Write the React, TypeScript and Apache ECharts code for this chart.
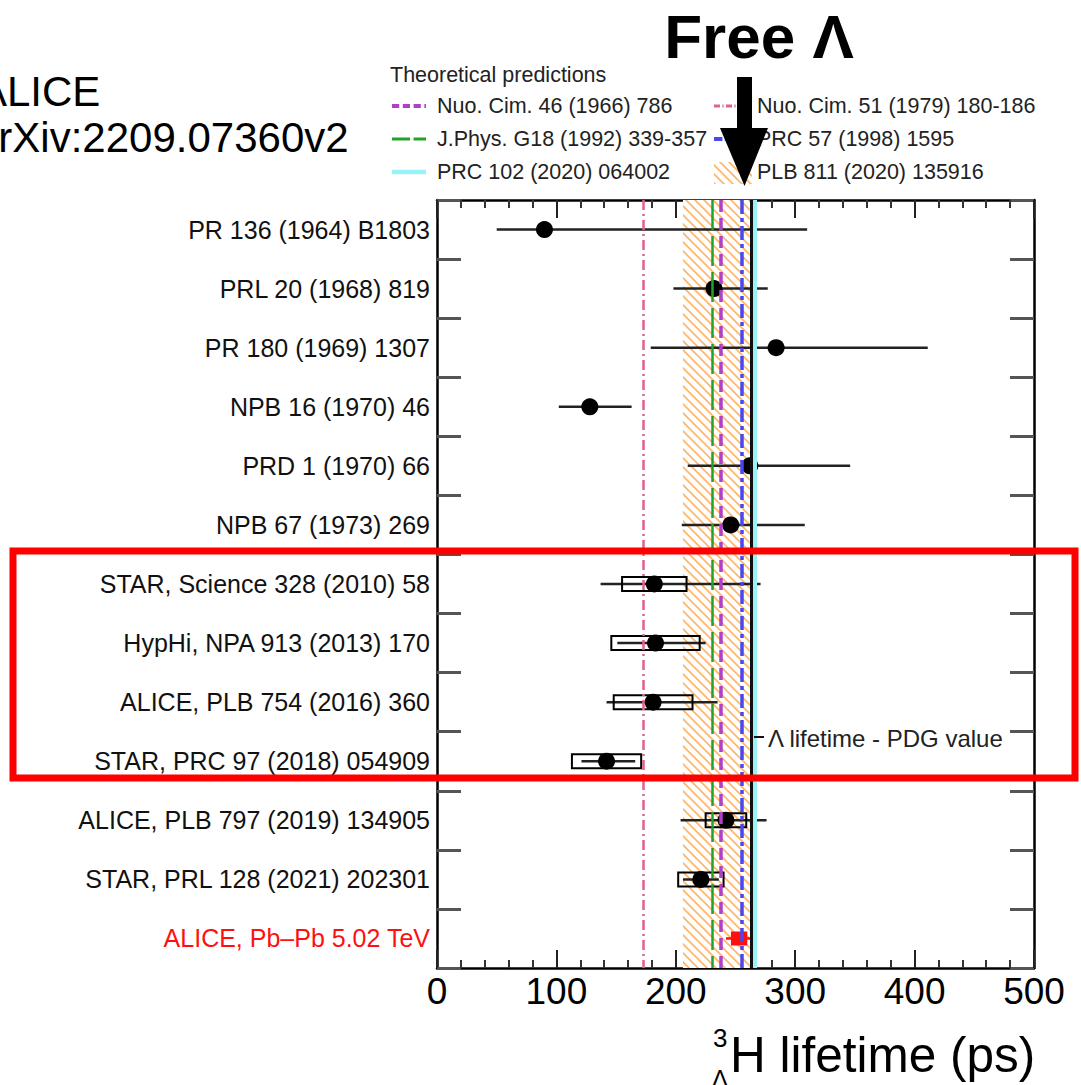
import React, { useEffect, useRef } from "react";
import * as echarts from "echarts";

// ---------- data ----------
const categories = [
  "PR 136 (1964) B1803",
  "PRL 20 (1968) 819",
  "PR 180 (1969) 1307",
  "NPB 16 (1970) 46",
  "PRD 1 (1970) 66",
  "NPB 67 (1973) 269",
  "STAR, Science 328 (2010) 58",
  "HypHi, NPA 913 (2013) 170",
  "ALICE, PLB 754 (2016) 360",
  "STAR, PRC 97 (2018) 054909",
  "ALICE, PLB 797 (2019) 134905",
  "STAR, PRL 128 (2021) 202301",
  "ALICE, Pb\u2013Pb 5.02 TeV",
];
const central = [90, 232, 284, 128, 262, 246, 182, 183, 181, 142, 242, 221, 253];
const statUp = [220, 45, 127, 35, 84, 62, 89, 42, 54, 24, 34, 15, 11];
const statDown = [40, 34, 105, 26, 52, 41, 45, 32, 39, 21, 38, 15, 11];
const sysErr = [0, 0, 0, 0, 0, 0, 27, 37, 33, 29, 17, 19, 6];

const xTicks = [0, 100, 200, 300, 400, 500];

const theoryNames = [
  "Nuo. Cim. 46 (1966) 786",
  "Nuo. Cim. 51 (1979) 180-186",
  "J.Phys. G18 (1992) 339-357",
  "PRC 57 (1998) 1595",
  "PRC 102 (2020) 064002",
  "PLB 811 (2020) 135916",
];
const theoryValues = [238, 172.5, 230.5, 255, 266];
const bandRange = [206, 262];
const pdgLifetime = 263.2;

// ---------- styles ----------
const FONT = "'Liberation Sans', Arial, Helvetica, sans-serif";
const theoryStyles = [
  { color: "#b040c8", width: 3.5, type: [12, 6] },
  { color: "#e2608c", width: 2.5, type: [10, 4, 2, 4] },
  { color: "#22a22a", width: 2.5, type: [30, 6] },
  { color: "#4848ee", width: 3.5, type: [14, 4, 4, 4] },
  { color: "#9af2f8", width: 4, type: "solid" },
];

export default function App() {
  const ref = useRef<HTMLDivElement>(null);

  useEffect(() => {
    if (!ref.current) return;
    const chart = echarts.init(ref.current, null, { renderer: "svg" });

    const hatch = document.createElement("canvas");
    const s = 9;
    hatch.width = s;
    hatch.height = s;
    const ctx = hatch.getContext("2d")!;
    ctx.fillStyle = "#ffffff";
    ctx.fillRect(0, 0, s, s);
    ctx.strokeStyle = "rgba(255,165,70,0.8)";
    ctx.lineWidth = 1.8;
    ctx.beginPath();
    ctx.moveTo(-1, -1);
    ctx.lineTo(s + 1, s + 1);
    ctx.moveTo(s - 2, -2);
    ctx.lineTo(s + 2, 2);
    ctx.moveTo(-2, s - 2);
    ctx.lineTo(2, s + 2);
    ctx.stroke();
    const pattern: any = { image: hatch, repeat: "repeat" };

    const isAlice = (i: number) => i === categories.length - 1;

    const xAxisBase = (pos: "bottom" | "top", showLabel: boolean) => ({
      type: "value",
      position: pos,
      min: xTicks[0],
      max: xTicks[xTicks.length - 1],
      interval: xTicks[1] - xTicks[0],
      axisLine: { show: true, onZero: false, lineStyle: { color: "#000", width: 2.5 } },
      axisTick: { show: true, inside: true, length: 18, lineStyle: { color: "#222", width: 2 } },
      minorTick: { show: true, splitNumber: 5, length: 8, lineStyle: { color: "#333", width: 2 } },
      splitLine: { show: false },
      axisLabel: {
        show: showLabel,
        color: "#000",
        fontSize: 37,
        fontFamily: FONT,
        margin: 5,
      },
    });

    const yAxisBase = (pos: "left" | "right", showLabel: boolean) => ({
      type: "category",
      position: pos,
      inverse: true,
      data: categories,
      boundaryGap: true,
      axisLine: { show: true, onZero: false, lineStyle: { color: "#000", width: 2.5 } },
      axisTick: {
        show: true,
        inside: true,
        length: 24,
        interval: 0,
        lineStyle: { color: "#555", width: 3 },
      },
      splitLine: { show: false },
      axisLabel: {
        show: showLabel,
        interval: 0,
        fontSize: 25,
        fontFamily: FONT,
        margin: 7,
        color: (_v: any, i: number) => (isAlice(i) ? "#ff1010" : "#111"),
      },
    });

    const errData = categories.map((_, i) => [
      central[i] - statDown[i],
      central[i] + statUp[i],
      i,
    ]);

    const legendLine = (x: number, y: number, st: any) => ({
      type: "line",
      shape: { x1: x, y1: y, x2: x + 34, y2: y },
      style: {
        stroke: st.color,
        lineWidth: st.width + 0.5,
        lineDash: Array.isArray(st.type) ? st.type.map((d: number) => d * 0.6) : null,
      },
    });
    const legendText = (x: number, y: number, t: string) => ({
      type: "text",
      x,
      y,
      style: {
        text: t,
        font: `21.5px ${FONT}`,
        fill: "#222",
        verticalAlign: "middle",
        textAlign: "left",
      },
    });
    const topText = (x: number, y: number, t: string, font: string, extra: any = {}) => ({
      type: "text",
      x,
      y,
      ...extra,
      style: { text: t, font, fill: "#000", verticalAlign: "top", textAlign: "left", ...(extra.style || {}) },
    });

    const option: any = {
      animation: false,
      backgroundColor: "#fff",
      grid: { left: 437, right: 47, top: 200, bottom: 117, containLabel: false },
      xAxis: [xAxisBase("bottom", true), xAxisBase("top", false)],
      yAxis: [yAxisBase("left", true), yAxisBase("right", false)],
      series: [
        {
          name: theoryNames[5],
          type: "scatter",
          data: [],
          z: 1,
          silent: true,
          markArea: {
            silent: true,
            itemStyle: { color: pattern, borderWidth: 0 },
            data: [[{ xAxis: bandRange[0] }, { xAxis: bandRange[1] }]],
          },
        },
        {
          name: "theory lines",
          type: "scatter",
          data: [],
          z: 2,
          silent: true,
          markLine: {
            silent: true,
            symbol: ["none", "none"],
            label: { show: false },
            data: [
              ...theoryValues.map((v, i) => ({
                xAxis: v,
                lineStyle: {
                  color: theoryStyles[i].color,
                  width: theoryStyles[i].width,
                  type: theoryStyles[i].type,
                  opacity: 1,
                },
              })),
              {
                xAxis: pdgLifetime,
                lineStyle: { color: "#111", width: 3, type: "solid", opacity: 1 },
              },
            ],
          },
        },
        {
          name: "errors",
          type: "custom",
          z: 3,
          silent: true,
          encode: { x: [0, 1], y: 2 },
          data: errData,
          renderItem: (params: any, api: any) => {
            const i = params.dataIndex;
            const col = isAlice(i) ? "#ff1010" : "#222";
            const lo = api.coord([api.value(0), i]);
            const hi = api.coord([api.value(1), i]);
            const children: any[] = [
              {
                type: "line",
                shape: { x1: lo[0], y1: lo[1], x2: hi[0], y2: hi[1] },
                style: { stroke: col, lineWidth: 2.5 },
              },
            ];
            if (sysErr[i] > 0) {
              const a = api.coord([central[i] - sysErr[i], i]);
              const b = api.coord([central[i] + sysErr[i], i]);
              const h = isAlice(i) ? 12 : 14;
              children.push({
                type: "rect",
                shape: { x: a[0], y: a[1] - h / 2, width: b[0] - a[0], height: h },
                style: {
                  fill: isAlice(i) ? "#ff1010" : "none",
                  stroke: isAlice(i) ? "#ff1010" : "#000",
                  lineWidth: 2,
                },
              });
            }
            return { type: "group", children };
          },
        },
        {
          name: "points",
          type: "scatter",
          z: 4,
          silent: true,
          data: central.map((v, i) =>
            isAlice(i)
              ? {
                  value: [v, i],
                  symbol: "rect",
                  symbolSize: [12, 10],
                  itemStyle: { color: "#ff1010", borderWidth: 0 },
                }
              : { value: [v, i] }
          ),
          symbol: "circle",
          symbolSize: 17,
          itemStyle: { color: "#000", opacity: 1 },
        },
      ],
      graphic: [
        // top-left labels
        topText(-21, 70, "ALICE", `42px ${FONT}`),
        topText(-25, 116, "arXiv:2209.07360v2", `42px ${FONT}`),
        // legend
        {
          type: "text",
          x: 390,
          y: 75,
          style: {
            text: "Theoretical predictions",
            font: `21.5px ${FONT}`,
            fill: "#222",
            verticalAlign: "middle",
          },
        },
        legendLine(392, 106, theoryStyles[0]),
        legendText(437, 106, theoryNames[0]),
        legendLine(714, 106, theoryStyles[1]),
        legendText(757, 106, theoryNames[1]),
        legendLine(392, 139, theoryStyles[2]),
        legendText(437, 139, theoryNames[2]),
        legendLine(714, 139, theoryStyles[3]),
        legendText(757, 139, theoryNames[3]),
        legendLine(392, 172, theoryStyles[4]),
        legendText(437, 172, theoryNames[4]),
        {
          type: "rect",
          shape: { x: 714, y: 162, width: 38, height: 22 },
          style: { fill: pattern, stroke: null },
        },
        legendText(757, 172, theoryNames[5]),
        // Free Lambda + arrow
        {
          type: "text",
          x: 759,
          y: 5,
          z: 10,
          style: {
            text: "Free \u039B",
            font: `bold 62px ${FONT}`,
            fill: "#000",
            textAlign: "center",
            verticalAlign: "top",
          },
        },
        {
          type: "rect",
          z: 10,
          shape: { x: 737, y: 77, width: 15, height: 56 },
          style: { fill: "#000" },
        },
        {
          type: "polygon",
          z: 10,
          shape: {
            points: [
              [720, 128],
              [768, 128],
              [744.5, 186],
            ],
          },
          style: { fill: "#000" },
        },
        // PDG label
        {
          type: "line",
          z: 10,
          shape: { x1: 754, y1: 737, x2: 764, y2: 737 },
          style: { stroke: "#111", lineWidth: 2 },
        },
        {
          type: "text",
          x: 768,
          y: 738,
          z: 10,
          style: {
            text: "\u039B lifetime - PDG value",
            font: `24px ${FONT}`,
            fill: "#222",
            verticalAlign: "middle",
          },
        },
        // x-axis title
        topText(713, 1025, "3", `26px ${FONT}`),
        topText(712, 1066, "\u039B", `24px ${FONT}`),
        topText(730, 1029, "H lifetime (ps)", `49.5px ${FONT}`),
        // red highlight box
        {
          type: "rect",
          z: 20,
          shape: { x: 13, y: 551, width: 1062, height: 227 },
          style: { fill: "none", stroke: "#ff0000", lineWidth: 7 },
        },
      ],
    };

    chart.setOption(option);
    return () => chart.dispose();
  }, []);

  return (
    <div
      ref={ref}
      style={{ position: "absolute", left: 0, top: 0, width: 1081, height: 1085, background: "#fff" }}
    />
  );
}
